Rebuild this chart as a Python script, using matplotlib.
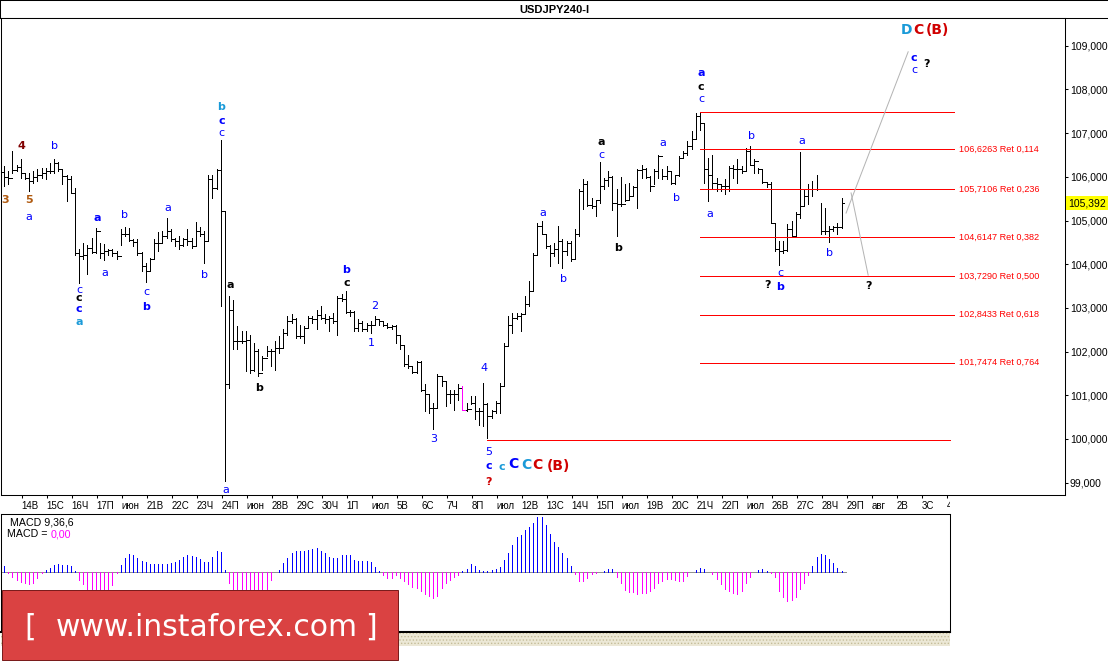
import numpy as np
import matplotlib.pyplot as plt
from matplotlib.patches import Rectangle
from matplotlib.transforms import Bbox, blended_transform_factory

plt.rcParams['font.family'] = ['Liberation Sans', 'DejaVu Sans']
plt.rcParams['axes.linewidth'] = 0.75
plt.rcParams['xtick.major.width'] = 0.75
plt.rcParams['ytick.major.width'] = 0.75
plt.rcParams['hatch.linewidth'] = 0.6

# ---- USDJPY H4 bars ----
highs = [
    106.25, 106.13, 106.59, 106.28, 106.41, 106.09, 106.09, 106.13, 106.17, 106.21,
    106.21, 106.32, 106.40, 106.34, 106.17, 106.05, 106.02, 105.75, 104.35, 104.49,
    104.45, 104.60, 104.83, 104.49, 104.47, 104.35, 104.34, 104.30, 104.81, 104.86,
    104.83, 104.57, 104.57, 104.28, 104.03, 104.15, 104.58, 104.73, 104.76, 105.06,
    104.80, 104.60, 104.64, 104.60, 104.80, 104.60, 104.96, 104.86, 104.76, 106.03,
    106.05, 106.17, 106.84, 105.22, 103.27, 103.19, 102.58, 102.47, 102.47, 102.39,
    102.20, 102.05, 101.90, 102.12, 102.05, 102.24, 102.35, 102.51, 102.81, 102.85,
    102.77, 102.62, 102.58, 102.81, 102.81, 102.96, 103.04, 102.85, 102.81, 102.89,
    103.27, 103.31, 103.38, 102.96, 102.93, 102.74, 102.70, 102.66, 102.70, 102.81,
    102.74, 102.70, 102.66, 102.62, 102.60, 102.39, 102.16, 101.93, 101.67, 101.78,
    101.78, 101.25, 101.02, 100.83, 101.48, 101.44, 101.32, 101.13, 101.13, 101.25,
    101.22, 100.83, 100.98, 100.98, 100.71, 101.29, 100.83, 100.67, 100.87, 101.29,
    102.20, 102.81, 102.89, 102.89, 102.89, 103.27, 103.61, 104.26, 104.95, 104.99,
    104.68, 104.45, 104.49, 104.87, 104.57, 104.53, 104.53, 104.80, 105.71, 105.94,
    105.90, 105.52, 105.48, 106.34, 105.98, 106.13, 106.02, 105.71, 106.00, 105.83,
    105.86, 105.79, 106.17, 106.28, 106.21, 106.02, 106.17, 106.51, 106.17, 106.25,
    106.13, 106.05, 106.47, 106.59, 106.82, 107.05, 107.47, 107.48, 107.24, 106.44,
    106.51, 105.98, 105.83, 105.94, 106.25, 106.28, 106.40, 106.25, 106.66, 106.70,
    106.40, 106.21, 106.17, 105.86, 105.88, 104.95, 104.53, 104.53, 104.91, 104.99,
    105.19, 106.57, 105.71, 105.83, 105.90, 106.05, 105.41, 105.29, 104.87, 104.87,
    104.95, 105.52]
lows = [
    105.79, 105.83, 106.09, 106.13, 105.98, 105.94, 105.67, 105.86, 105.90, 105.98,
    105.94, 106.09, 106.09, 106.13, 105.83, 105.44, 105.63, 104.22, 103.57, 104.11,
    103.77, 104.26, 104.26, 104.15, 104.09, 104.22, 104.19, 104.12, 104.45, 104.64,
    104.53, 104.41, 104.22, 103.84, 103.59, 103.84, 104.15, 104.30, 104.49, 104.60,
    104.53, 104.41, 104.34, 104.41, 104.45, 104.38, 104.41, 104.64, 104.03, 104.53,
    105.52, 105.71, 103.04, 99.03, 101.17, 102.05, 102.05, 102.20, 101.55, 101.52,
    101.55, 101.44, 101.59, 101.90, 101.67, 101.59, 101.97, 102.09, 102.39, 102.66,
    102.32, 102.32, 102.20, 102.54, 102.66, 102.51, 102.74, 102.66, 102.47, 102.66,
    102.39, 103.15, 102.89, 102.81, 102.47, 102.47, 102.47, 102.47, 102.43, 102.62,
    102.62, 102.58, 102.54, 102.51, 102.20, 102.05, 101.67, 101.63, 101.52, 101.50,
    101.09, 100.64, 100.60, 100.23, 100.71, 101.21, 100.75, 100.83, 100.67, 100.90,
    100.67, 100.64, 100.79, 100.45, 100.33, 100.29, 100.03, 100.48, 100.60, 100.60,
    101.21, 102.16, 102.43, 102.74, 102.47, 102.89, 103.04, 103.38, 104.22, 104.68,
    104.38, 103.96, 104.19, 104.03, 103.92, 104.22, 104.07, 104.11, 104.64, 105.27,
    105.33, 105.29, 105.10, 105.41, 105.71, 105.79, 105.25, 104.64, 105.33, 105.44,
    105.48, 105.56, 105.29, 105.98, 105.98, 105.67, 105.83, 105.98, 105.94, 105.94,
    105.83, 105.83, 106.02, 106.44, 106.51, 106.63, 106.86, 107.08, 105.86, 105.44,
    105.71, 105.67, 105.67, 105.60, 105.67, 105.98, 105.86, 106.09, 106.13, 106.26,
    106.09, 106.09, 105.86, 105.77, 104.95, 104.30, 103.99, 104.26, 104.30, 104.63,
    104.63, 105.06, 105.33, 105.37, 105.56, 105.70, 104.68, 104.68, 104.51, 104.76,
    104.68, 104.83]
closes = [
    106.00, 105.98, 106.15, 106.23, 106.09, 105.98, 105.90, 106.00, 106.05, 106.09,
    106.13, 106.13, 106.32, 106.17, 106.02, 105.94, 105.63, 104.25, 104.19, 104.21,
    104.38, 104.28, 104.76, 104.26, 104.30, 104.32, 104.26, 104.19, 104.70, 104.68,
    104.55, 104.51, 104.26, 103.96, 103.84, 104.12, 104.49, 104.49, 104.64, 104.76,
    104.57, 104.53, 104.45, 104.58, 104.53, 104.41, 104.76, 104.68, 104.53, 105.96,
    105.75, 106.15, 105.22, 101.25, 102.96, 102.24, 102.24, 102.24, 102.26, 101.59,
    102.01, 101.52, 101.86, 102.01, 102.01, 102.09, 102.09, 102.43, 102.70, 102.75,
    102.35, 102.35, 102.54, 102.77, 102.74, 102.83, 102.77, 102.75, 102.77, 102.70,
    103.23, 103.21, 102.90, 102.90, 102.54, 102.66, 102.51, 102.62, 102.60, 102.75,
    102.70, 102.62, 102.57, 102.58, 102.39, 102.14, 101.71, 101.67, 101.53, 101.76,
    101.13, 101.02, 100.71, 100.71, 101.45, 101.32, 101.04, 101.04, 101.04, 101.17,
    100.67, 100.69, 100.83, 100.64, 100.64, 100.79, 100.52, 100.64, 100.83, 101.21,
    102.12, 102.62, 102.77, 102.81, 102.87, 103.08, 103.38, 104.22, 104.87, 104.68,
    104.41, 104.26, 104.34, 104.53, 104.30, 104.49, 104.11, 104.68, 105.67, 105.83,
    105.35, 105.33, 105.48, 105.79, 105.92, 106.00, 105.41, 105.37, 105.37, 105.48,
    105.56, 105.77, 106.15, 106.17, 106.00, 105.79, 106.13, 106.47, 106.02, 106.13,
    105.86, 106.03, 106.44, 106.54, 106.70, 106.86, 107.39, 107.24, 106.17, 106.05,
    105.85, 105.83, 105.79, 105.79, 106.21, 106.18, 106.17, 106.13, 106.59, 106.28,
    106.36, 106.17, 105.88, 105.83, 104.95, 104.34, 104.30, 104.32, 104.80, 104.64,
    105.16, 105.33, 105.56, 105.71, 105.71, 105.71, 104.76, 104.76, 104.80, 104.86,
    104.86, 105.39]
first_open = 106.10
highlighted_bar = 110  # the one magenta bar

# MACD(9,36,6) histogram, in hundredths
macd_hist = np.array([
    5.7, -1, -5, -8.3, -10.7, -11.7, -12.3, -11, -6, -1.7,
    1.7, 4, 6.7, 7.3, 6.7, 6.7, 6, 0.7, -8.3, -12.7,
    -18, -22, -25, -26, -25, -20, -13.3, -1.7, 6.7, 14,
    17.3, 16.7, 13.3, 11, 9.3, 7.3, 7.3, 7.3, 7.3, 8,
    9, 10, 11.7, 14.3, 16.7, 15.7, 14.3, 12.3, 9.3, 10,
    15, 20.7, 19.3, 1.7, -11.7, -18, -22, -25, -27, -28,
    -27, -25, -22, -18.3, -8.3, -0.3, 1.7, 8.3, 14, 19,
    21, 21, 20.7, 21.7, 22.3, 23.3, 20.7, 18.3, 15, 14,
    14, 16.7, 16.7, 16.7, 11.7, 10.7, 10.7, 11, 10, 5,
    0.7, -3.3, -6.7, -6.7, -3.3,
    -6.3, -9, -12.3, -15, -16.3, -19, -22.3, -24, -26.3, -24,
    -16.3, -11.3, -8, -5.7, -3, 0.3, 2.7, 7.7, 6, 1.7,
    1, 1, 2, 3, 5, 11.7, 18.7, 27, 35, 37,
    41.7, 45, 49, 54.3, 54.3, 47, 37.7, 29.3, 24.3, 18.3,
    13.7, 6, -2.3, -9, -9.7, -6.3, -2.3, -1.7, -0.7, 1,
    3, 3, -5, -11.7, -18.3, -20.7, -20.7, -22.3, -21.7, -21,
    -19.7, -16.3, -11.7, -9, -7, -7, -8.3, -9.7, -9, -4,
    -0.7, 2, 3.7, 3, 0, -2.3, -7.3, -12.3, -17.3, -19.7,
    -21.7, -22.3, -19.7, -11.7, -5, -0.7, 1.7, 3, 1, -1.3,
    -5.7, -19, -25.7, -29.7, -28.3, -25.7, -17.3, -11.7, -3, 6,
    15, 17.7, 17, 12.7, 8.7, 4, 1]) / 100

fib_top = 107.482
fib_bottom = 99.976
fib_prices = [106.6263, 105.7106, 104.6147, 103.7290, 102.8433, 101.7474]
fib_ratios = ['0,114', '0,236', '0,382', '0,500', '0,618', '0,764']
last_price = 105.392

day_labels = ['14В', '15С', '16Ч', '17П', 'июн', '21В', '22С', '23Ч', '24П', 'июн',
              '28В', '29С', '30Ч', '1П', 'июл', '5В', '6С', '7Ч', '8П', 'июл',
              '12В', '13С', '14Ч', '15П', 'июл', '19В', '20С', '21Ч', '22П', 'июл',
              '26В', '27С', '28Ч', '29П', 'авг', '2В', '3С', '4']
price_ticks = list(range(99, 110))

forecast_up_x, forecast_up_y = [202.1, 217.0], [105.17, 108.86]
forecast_dn_x, forecast_dn_y = [203.3, 207.4], [105.63, 103.75]

BLUE, TEAL, RED, BLACK = '#0000ff', '#1a9ad8', '#d00000', '#000000'
ORANGE, MAROON = '#b05a10', '#800000'
# (bar index, price, text, colour, bold, size)
wave_labels = [
    (0.3, 105.47, '3', ORANGE, True, 8), (4.1, 106.70, '4', MAROON, True, 8),
    (6.0, 105.47, '5', ORANGE, True, 8), (6.0, 105.08, 'a', BLUE, False, 8),
    (12.2, 106.70, 'b', BLUE, False, 8), (22.3, 105.06, 'a', BLUE, True, 8),
    (29.0, 105.13, 'b', BLUE, False, 8), (24.2, 103.80, 'a', BLUE, False, 8),
    (39.4, 105.29, 'a', BLUE, False, 8), (48.0, 103.75, 'b', BLUE, False, 8),
    (18.0, 103.41, 'c', BLUE, False, 8), (18.0, 103.23, 'c', BLACK, True, 8),
    (18.0, 102.97, 'c', BLUE, True, 8), (18.0, 102.68, 'a', TEAL, True, 8),
    (34.2, 103.37, 'c', BLUE, False, 8), (34.2, 103.01, 'b', BLUE, True, 8),
    (52.2, 107.60, 'b', TEAL, True, 8), (52.2, 107.28, 'c', BLUE, True, 8),
    (52.2, 107.01, 'c', BLUE, False, 8), (54.4, 103.52, 'a', BLACK, True, 8),
    (53.3, 98.83, 'a', BLUE, False, 8), (61.3, 101.17, 'b', BLACK, True, 8),
    (82.2, 103.87, 'b', BLUE, True, 8), (82.2, 103.58, 'c', BLACK, True, 8),
    (89.0, 103.04, '2', BLUE, False, 8), (88.1, 102.20, '1', BLUE, False, 8),
    (103.2, 100.00, '3', BLUE, False, 8), (115.2, 101.62, '4', BLUE, False, 8),
    (116.3, 99.71, '5', BLUE, False, 8), (116.3, 99.38, 'c', BLUE, True, 8),
    (116.3, 99.02, '?', RED, True, 8), (119.4, 99.37, 'c', TEAL, True, 8),
    (122.2, 99.42, 'C', BLUE, True, 10), (125.3, 99.41, 'C', TEAL, True, 10),
    (128.1, 99.41, 'C', RED, True, 10), (133.0, 99.39, '(B)', RED, True, 10),
    (129.3, 105.18, 'a', BLUE, False, 8), (134.2, 103.65, 'b', BLUE, False, 8),
    (143.4, 106.80, 'a', BLACK, True, 8), (143.4, 106.51, 'c', BLUE, False, 8),
    (147.3, 104.36, 'b', BLACK, True, 8), (158.2, 106.78, 'a', BLUE, False, 8),
    (161.3, 105.52, 'b', BLUE, False, 8), (167.3, 108.37, 'a', BLUE, True, 8),
    (167.3, 108.06, 'c', BLACK, True, 8), (167.3, 107.77, 'c', BLUE, False, 8),
    (169.3, 105.16, 'a', BLUE, False, 8), (179.3, 106.94, 'b', BLUE, False, 8),
    (186.3, 103.81, 'c', BLUE, False, 8), (183.2, 103.52, '?', BLACK, True, 8),
    (186.3, 103.48, 'b', BLUE, True, 8), (191.4, 106.82, 'a', BLUE, False, 8),
    (198.2, 104.26, 'b', BLUE, False, 8), (207.6, 103.51, '?', BLACK, True, 8),
    (218.4, 108.71, 'c', BLUE, True, 8), (218.4, 108.44, 'c', BLUE, False, 8),
    (221.4, 108.58, '?', BLACK, True, 8), (216.5, 109.37, 'D', TEAL, True, 10),
    (219.4, 109.37, 'C', RED, True, 10), (224.1, 109.37, '(B)', RED, True, 10),
]

# ---- layout (pixels of a 1108x662 canvas) ----
W, H = 1108, 662
bar_px, first_px = 25 / 6, 4.0
LW = 0.72  # one pixel


def fx(px):
    return px / W


def fy(py):
    return 1 - py / H


def xi(px):
    return (px - first_px) / bar_px


fig = plt.figure(figsize=(W / 100, H / 100), dpi=100)

# title strip
tax = fig.add_axes([0, fy(18), 1, 18 / H])
tax.set_xticks([]); tax.set_yticks([])
tax.spines['right'].set_visible(False)
tax.text(0.5, 0.45, 'USDJPY240-I', ha='center', va='center', fontsize=8,
         fontweight='bold', transform=tax.transAxes)

# price panel
ax = fig.add_axes([fx(1), fy(495), fx(1065) - fx(1), fy(18) - fy(495)])
ax.set_xlim(xi(1), xi(1065))
ax.set_ylim(100 - (495 - 439) / 43.7, 100 + (439 - 18) / 43.7)

n = len(closes)
idx = np.arange(n)
opens = np.r_[first_open, closes[:-1]]
cols = ['black'] * n
cols[highlighted_bar] = '#ff00ff'
ax.vlines(idx, lows, highs, colors=cols, lw=LW, antialiaseds=False)
ax.hlines(opens, idx - 0.6, idx, colors=cols, lw=LW, antialiaseds=False)
ax.hlines(closes, idx, idx + 0.6, colors=cols, lw=LW, antialiaseds=False)

# fibonacci retracement
red = '#ff0000'
ax.hlines(fib_top, 167, 228, colors=red, lw=LW, antialiaseds=False)
ax.hlines(fib_bottom, 116, 227, colors=red, lw=LW, antialiaseds=False)
ax.hlines(fib_prices, 167, 228, colors=red, lw=LW, antialiaseds=False)
for p, r in zip(fib_prices, fib_ratios):
    ax.text(229.2, p, f'{p:.4f}'.replace('.', ',') + ' Ret ' + r, color=red,
            fontsize=6.6, va='center', ha='left')

# forecast paths
ax.plot(forecast_up_x, forecast_up_y, color='#b4b4b4', lw=LW)
ax.plot(forecast_dn_x, forecast_dn_y, color='#b4b4b4', lw=LW)

for x, y, s, c, b, fs in wave_labels:
    ax.text(x, y, s, color=c, fontsize=fs, fontweight='bold' if b else 'normal',
            family='DejaVu Sans', ha='center', va='center')

# axes styling
ax.yaxis.tick_right()
ax.set_yticks(price_ticks)
ax.set_yticklabels([f'{v},000' for v in price_ticks])
ax.tick_params(axis='y', direction='out', length=2.5, pad=1, labelsize=7.5)
tick_pos = 4.25 + 6 * np.arange(len(day_labels))
ax.set_xticks(tick_pos)
ax.set_xticklabels(day_labels[:-1] + [''], ha='left')
ax.tick_params(axis='x', direction='out', length=2.5, pad=2, labelsize=7)
t4 = ax.text(tick_pos[-1], -0.013, day_labels[-1], fontsize=7, ha='left', va='top',
             transform=blended_transform_factory(ax.transData, ax.transAxes))
t4.set_clip_box(Bbox.from_extents(0, 0, 950, H))
t4.set_clip_on(True)

ax.annotate(f'{last_price:.3f}'.replace('.', ','), xy=(1.0, last_price),
            xycoords=blended_transform_factory(ax.transAxes, ax.transData),
            xytext=(3, 0), textcoords='offset pixels', ha='left', va='center',
            fontsize=7.5, annotation_clip=False,
            bbox=dict(boxstyle='square,pad=0.2', fc='#ffff00', ec='none'))

# MACD panel
mx = fig.add_axes([fx(1), fy(632), fx(950) - fx(1), fy(514) - fy(632)])
mx.set_xlim(xi(1), xi(950))
mx.set_ylim(-0.603, 0.577)
mx.set_xticks([]); mx.set_yticks([])
mi = np.arange(len(macd_hist))
mx.hlines(0, -0.7, len(macd_hist), colors='#909090', lw=LW, antialiaseds=False, zorder=1)
mcol = np.where(macd_hist >= 0, '#0000ff', '#ff00ff')
mx.vlines(mi, 0, macd_hist, colors=mcol, lw=LW, antialiaseds=False, zorder=2)
mx.spines['bottom'].set_linewidth(1.5)
mx.text(fx(9) / fx(950), 0.93, 'MACD 9,36,6', transform=mx.transAxes, fontsize=7.7,
        va='center', ha='left')
mx.text(0.006, 0.83, 'MACD =', transform=mx.transAxes, fontsize=7.7, va='center', ha='left')
mx.text(0.052, 0.83, '0,00', transform=mx.transAxes, fontsize=7.7, va='center', ha='left',
        color='#ff00ff')

# textured strip under the indicator
fig.patches.append(Rectangle((fx(1), fy(646)), fx(950) - fx(1), 13 / H,
                             transform=fig.transFigure, facecolor='#ece8d6',
                             edgecolor='#c4bc98', hatch='.....', lw=0))

# logo
fig.patches.append(Rectangle((fx(2), fy(660)), fx(398) - fx(2), 70 / H,
                             transform=fig.transFigure, facecolor='#da4242',
                             edgecolor='#7a1c1c', lw=LW, zorder=10))
for px, s in [(30, '['), (207, 'www.instaforex.com'), (371, ']')]:
    fig.text(fx(px), fy(627), s, color='white', fontsize=21.5, family='DejaVu Sans',
             ha='center', va='center', zorder=11)

fig.savefig('out.png', dpi=100)
